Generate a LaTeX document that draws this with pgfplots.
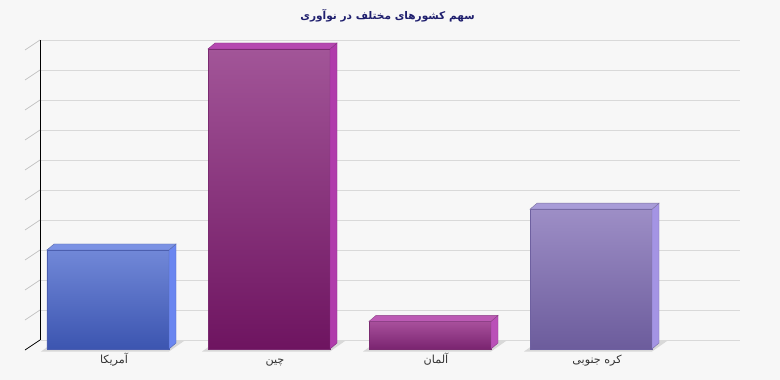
\documentclass[border=0pt]{standalone}
\usepackage{pgfplots}
\pgfplotsset{compat=1.18}
\usepackage{fontspec}
\setmainfont{DejaVu Sans}
\newfontfamily\arabicfont[Script=Arabic]{DejaVu Sans}
\TeXXeTstate=1
\definecolor{bg}{HTML}{F7F7F7}
\definecolor{gridc}{HTML}{D9D9D9}
\definecolor{tickc}{HTML}{C4C4C4}
\definecolor{shadowc}{HTML}{D8D8D8}
\definecolor{titlec}{HTML}{1F1F6E}
\definecolor{labelc}{HTML}{333333}
% America
\definecolor{usT}{HTML}{7188D8}
\definecolor{usB}{HTML}{3C55B0}
\definecolor{usS}{HTML}{6A86F0}
\definecolor{usTop}{HTML}{7B92E4}
\definecolor{usE}{HTML}{4A5DB0}
% China
\definecolor{cnT}{HTML}{A25598}
\definecolor{cnB}{HTML}{6E1460}
\definecolor{cnS}{HTML}{B03CAB}
\definecolor{cnTop}{HTML}{B548B0}
\definecolor{cnE}{HTML}{7A2A70}
% Germany
\definecolor{deT}{HTML}{A8509C}
\definecolor{deB}{HTML}{7A2470}
\definecolor{deS}{HTML}{BA50B8}
\definecolor{deTop}{HTML}{BC5AB4}
\definecolor{deE}{HTML}{7A2A70}
% South Korea
\definecolor{krT}{HTML}{9D8EC6}
\definecolor{krB}{HTML}{6C5C9C}
\definecolor{krS}{HTML}{A494E4}
\definecolor{krTop}{HTML}{A89CD8}
\definecolor{krE}{HTML}{6E60A0}

\pgfdeclareplotmark{slant}{%
  \pgfpathmoveto{\pgfpointorigin}%
  \pgfpathlineto{\pgfpoint{-15bp}{-10bp}}%
  \pgfusepath{stroke}}

\pgfdeclareplotmark{shadow3d}{%
  \pgfmathsetmacro\bxH{\val*3}%
  \pgfsetfillcolor{shadowc}%
  \pgfpathmoveto{\pgfpoint{-67bp}{-\bxH bp-2.5bp}}%
  \pgfpathlineto{\pgfpoint{61bp}{-\bxH bp-2.5bp}}%
  \pgfpathlineto{\pgfpoint{76bp}{-\bxH bp+8bp}}%
  \pgfpathlineto{\pgfpoint{-52bp}{-\bxH bp+8bp}}%
  \pgfpathclose
  \pgfusepath{fill}}

\newcommand\defboxmark[3]{%
\pgfdeclareplotmark{#1}{%
  \pgfmathsetmacro\bxH{\val*3}%
  \pgfsetlinewidth{0.4bp}%
  \pgfsetfillcolor{#2}\pgfsetstrokecolor{#2!75!black}%
  \pgfpathmoveto{\pgfpoint{61bp}{0bp}}%
  \pgfpathlineto{\pgfpoint{68bp}{6bp}}%
  \pgfpathlineto{\pgfpoint{68bp}{6bp-\bxH bp}}%
  \pgfpathlineto{\pgfpoint{61bp}{-\bxH bp}}%
  \pgfpathclose
  \pgfusepath{fill,stroke}%
  \pgfsetfillcolor{#3}\pgfsetstrokecolor{#3!75!black}%
  \pgfpathmoveto{\pgfpoint{-61bp}{0bp}}%
  \pgfpathlineto{\pgfpoint{-54bp}{6bp}}%
  \pgfpathlineto{\pgfpoint{68bp}{6bp}}%
  \pgfpathlineto{\pgfpoint{61bp}{0bp}}%
  \pgfpathclose
  \pgfusepath{fill,stroke}}}
\defboxmark{usbox}{usS}{usTop}
\defboxmark{cnbox}{cnS}{cnTop}
\defboxmark{debox}{deS}{deTop}
\defboxmark{krbox}{krS}{krTop}

\pgfplotsset{
  faces/.style={only marks, scatter, mark=#1,
    visualization depends on={rawy \as \val}},
  frontbar/.style n args={3}{ybar, bar width=122bp, bar shift=0pt,
    draw=#3, line width=0.5bp, top color=#1, bottom color=#2, mark=none},
  frontaxis/.style={
    at={(27.5bp,31bp)}, anchor=south west, scale only axis,
    width=644bp, height=315bp,
    xmin=-0.5, xmax=3.5, ymin=0, ymax=105,
    clip=false,
    axis line style={draw=none},
    tick style={draw=none},
    ytick=\empty},
}

\begin{document}
\begin{tikzpicture}
\fill[bg] (0,0) rectangle (780bp,380bp);
% back wall
\begin{axis}[
  at={(40bp,40bp)}, anchor=south west, scale only axis,
  width=700bp, height=300bp,
  xmin=0, xmax=1, ymin=0, ymax=100,
  clip=false,
  axis x line=none, axis y line*=left,
  y axis line style={-, draw=black, line width=0.8bp},
  xtick=\empty, ytick={0,10,...,100}, yticklabels={},
  ytick style={draw=none},
  ymajorgrids, grid style={gridc, line width=0.8bp},
]
\addplot[only marks, mark=slant, mark options={draw=tickc, line width=0.8bp}]
  coordinates {(0,10)(0,20)(0,30)(0,40)(0,50)(0,60)(0,70)(0,80)(0,90)(0,100)};
\addplot[only marks, mark=slant, mark options={draw=black, line width=0.8bp}]
  coordinates {(0,0)};
\end{axis}
% floor shadows
\begin{axis}[frontaxis, xtick=\empty]
\addplot[faces=shadow3d] coordinates {(0,33) (1,100) (2,9.2) (3,46.6)};
\end{axis}
% bars
\begin{axis}[frontaxis,
  xtick={0,1,2,3},
  xticklabels={{\beginR آمریکا\endR},{\beginR چین\endR},{\beginR آلمان\endR},{\beginR کره جنوبی\endR}},
  xticklabel style={font=\arabicfont\fontsize{11.2}{12}\selectfont, text=labelc,
    anchor=base, xshift=6bp, yshift=-14bp},
]
\addplot[frontbar={usT}{usB}{usE}] coordinates {(0,33)};
\addplot[faces=usbox] coordinates {(0,33)};
\addplot[frontbar={cnT}{cnB}{cnE}] coordinates {(1,100)};
\addplot[faces=cnbox] coordinates {(1,100)};
\addplot[frontbar={deT}{deB}{deE}] coordinates {(2,9.2)};
\addplot[faces=debox] coordinates {(2,9.2)};
\addplot[frontbar={krT}{krB}{krE}] coordinates {(3,46.6)};
\addplot[faces=krbox] coordinates {(3,46.6)};
\end{axis}
\node[font=\arabicfont\bfseries\fontsize{10.6}{12}\selectfont, text=titlec]
  at (387.5bp,364bp) {\beginR سهم کشورهای مختلف در نوآوری\endR};
\end{tikzpicture}
\end{document}
